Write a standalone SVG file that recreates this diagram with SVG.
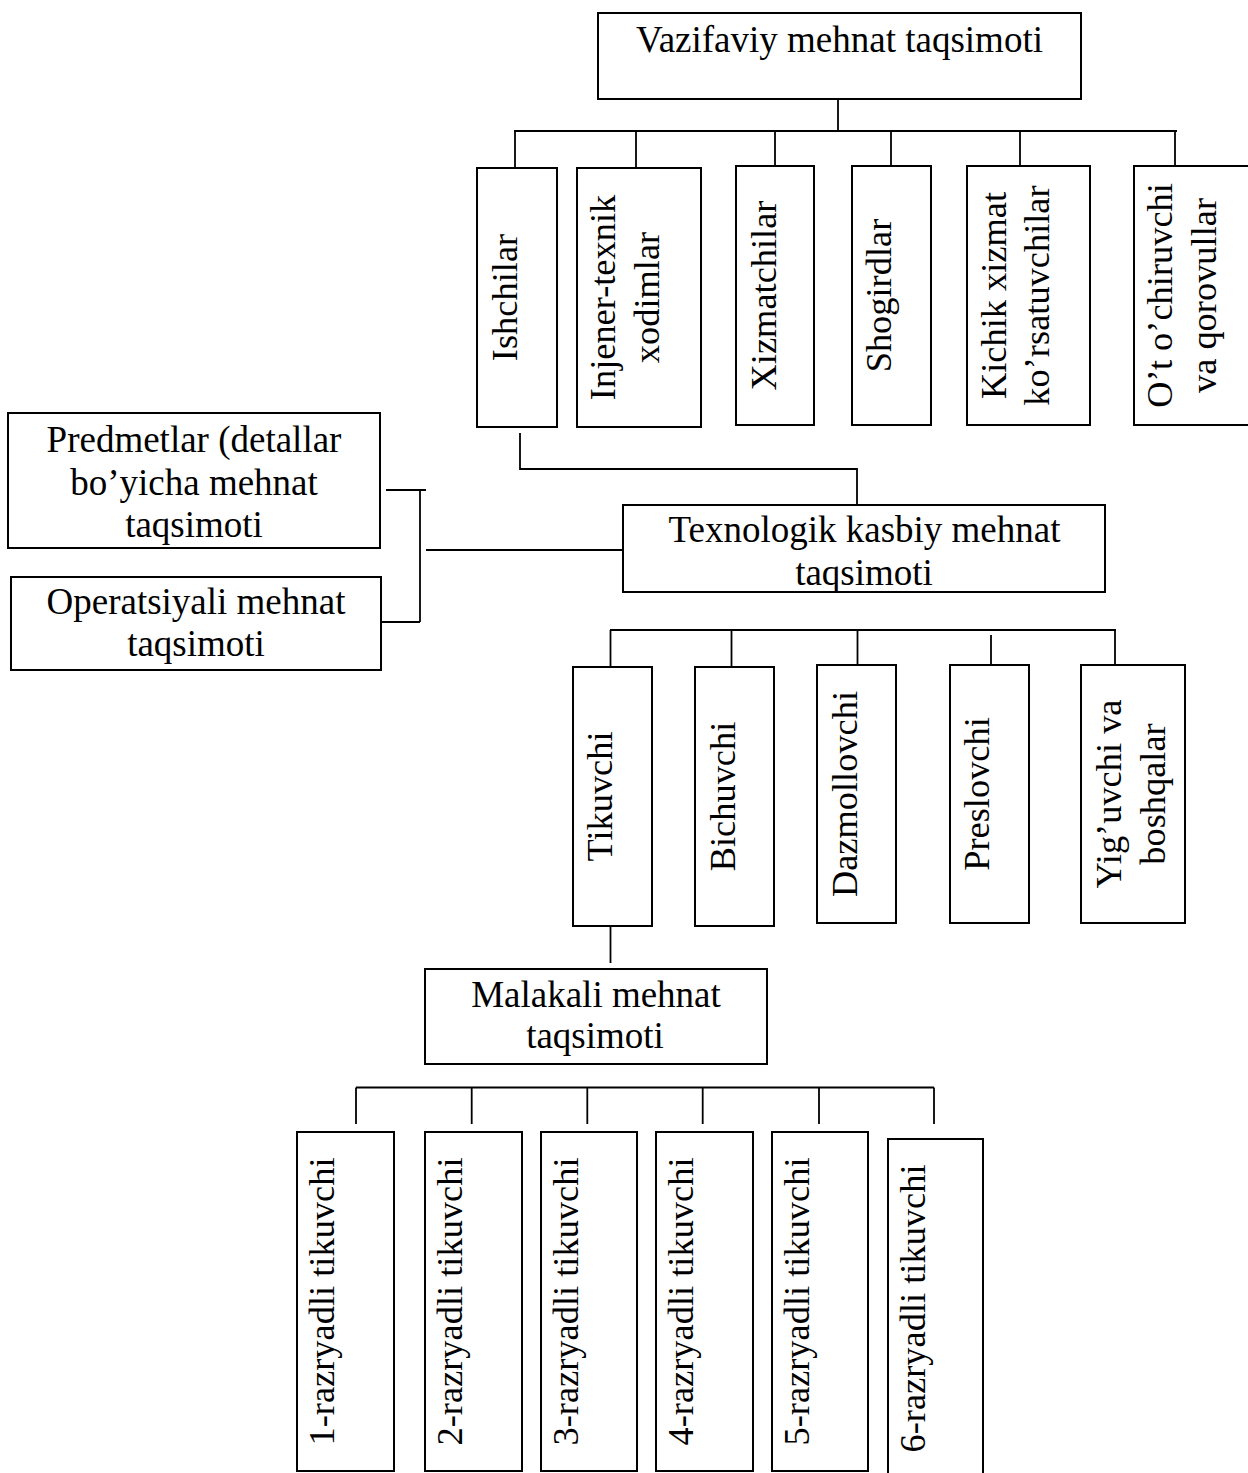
<svg xmlns="http://www.w3.org/2000/svg" width="1248" height="1473" viewBox="0 0 1248 1473">
  <style>
    .box { fill: #ffffff; stroke: #000000; stroke-width: 2; }
    .ln { fill: none; stroke: #000000; stroke-width: 1.8; }
    .t { font-family: "Liberation Serif", "Times New Roman", serif; font-size: 36.4px; fill: #000000; text-anchor: middle; }
    .h { font-size: 37px; }
  </style>
  <defs>
    <clipPath id="clipTex">
      <rect x="623" y="505" width="482" height="86"/>
    </clipPath>
  </defs>
  <rect x="0" y="0" width="1248" height="1473" fill="#ffffff"/>

  <!-- connectors -->
  <g id="connectors" class="ln">
    <!-- top level to first row -->
    <line x1="838" y1="99" x2="838" y2="131"/>
    <line x1="514" y1="131" x2="1177" y2="131"/>
    <line x1="515" y1="131" x2="515" y2="168"/>
    <line x1="636" y1="131" x2="636" y2="168"/>
    <line x1="775" y1="131" x2="775" y2="166"/>
    <line x1="891" y1="131" x2="891" y2="166"/>
    <line x1="1020" y1="131" x2="1020" y2="166"/>
    <line x1="1175" y1="131" x2="1175" y2="166"/>
    <!-- Ishchilar to technological division -->
    <polyline points="520,433 520,469 857,469 857,505"/>
    <!-- left bracket -->
    <line x1="386" y1="490" x2="426" y2="490"/>
    <line x1="420" y1="490" x2="420" y2="622"/>
    <line x1="381" y1="622" x2="420" y2="622"/>
    <line x1="426" y1="550" x2="626" y2="550"/>
    <!-- second row bus -->
    <line x1="610" y1="630" x2="1116" y2="630"/>
    <line x1="610.5" y1="630" x2="610.5" y2="667"/>
    <line x1="731.5" y1="630" x2="731.5" y2="667"/>
    <line x1="857.5" y1="630" x2="857.5" y2="665"/>
    <line x1="991" y1="635" x2="991" y2="665"/>
    <line x1="1115" y1="630" x2="1115" y2="665"/>
    <!-- Tikuvchi to skill division -->
    <line x1="610.5" y1="926" x2="610.5" y2="963"/>
    <!-- bottom bus -->
    <line x1="356" y1="1087.5" x2="934" y2="1087.5"/>
    <line x1="356" y1="1087.5" x2="356" y2="1124"/>
    <line x1="471.7" y1="1087.5" x2="471.7" y2="1124"/>
    <line x1="587.3" y1="1087.5" x2="587.3" y2="1124"/>
    <line x1="702.7" y1="1087.5" x2="702.7" y2="1124"/>
    <line x1="819" y1="1087.5" x2="819" y2="1124"/>
    <line x1="934" y1="1087.5" x2="934" y2="1124"/>
  </g>

  <!-- top node -->
  <g id="vazifaviy">
    <rect class="box" x="598" y="13" width="483" height="86"/>
    <text class="t h" x="839.5" y="52">Vazifaviy mehnat taqsimoti</text>
  </g>

  <!-- first row -->
  <g id="ishchilar">
    <rect class="box" x="477" y="168" width="80" height="259"/>
    <text class="t" transform="translate(517,297.5) rotate(-90)">Ishchilar</text>
  </g>
  <g id="injener">
    <rect class="box" x="577" y="168" width="124" height="259"/>
    <text class="t" transform="translate(615,297.5) rotate(-90)">Injener-texnik</text>
    <text class="t" transform="translate(659,297.5) rotate(-90)">xodimlar</text>
  </g>
  <g id="xizmatchilar">
    <rect class="box" x="736" y="166" width="78" height="259"/>
    <text class="t" transform="translate(776,295.5) rotate(-90)">Xizmatchilar</text>
  </g>
  <g id="shogirdlar">
    <rect class="box" x="852" y="166" width="79" height="259"/>
    <text class="t" transform="translate(891,295.5) rotate(-90)">Shogirdlar</text>
  </g>
  <g id="kichik">
    <rect class="box" x="967" y="166" width="123" height="259"/>
    <text class="t" transform="translate(1006,295.5) rotate(-90)">Kichik xizmat</text>
    <text class="t" transform="translate(1049,295.5) rotate(-90)">ko’rsatuvchilar</text>
  </g>
  <g id="otochiruvchi">
    <rect class="box" x="1134" y="166" width="126" height="259"/>
    <text class="t" transform="translate(1172,295.5) rotate(-90)">O’t o’chiruvchi</text>
    <text class="t" transform="translate(1216,295.5) rotate(-90)">va qorovullar</text>
  </g>

  <!-- left nodes -->
  <g id="predmetlar">
    <rect class="box" x="8" y="413" width="372" height="135"/>
    <text class="t h" x="194" y="452">Predmetlar (detallar</text>
    <text class="t h" x="194" y="494.5">bo’yicha mehnat</text>
    <text class="t h" x="194" y="537">taqsimoti</text>
  </g>
  <g id="operatsiyali">
    <rect class="box" x="11" y="577" width="370" height="93"/>
    <text class="t h" x="196" y="614">Operatsiyali mehnat</text>
    <text class="t h" x="196" y="656">taqsimoti</text>
  </g>

  <!-- technological division -->
  <g id="texnologik">
    <rect class="box" x="623" y="505" width="482" height="87"/>
    <g clip-path="url(#clipTex)">
      <text class="t h" x="864.5" y="542">Texnologik kasbiy mehnat</text>
      <text class="t h" x="864" y="585">taqsimoti</text>
    </g>
  </g>

  <!-- second row -->
  <g id="tikuvchi">
    <rect class="box" x="573" y="667" width="79" height="259"/>
    <text class="t" transform="translate(612,796.5) rotate(-90)">Tikuvchi</text>
  </g>
  <g id="bichuvchi">
    <rect class="box" x="695" y="667" width="79" height="259"/>
    <text class="t" transform="translate(735,796.5) rotate(-90)">Bichuvchi</text>
  </g>
  <g id="dazmollovchi">
    <rect class="box" x="817" y="665" width="79" height="258"/>
    <text class="t" transform="translate(857,794) rotate(-90)">Dazmollovchi</text>
  </g>
  <g id="preslovchi">
    <rect class="box" x="950" y="665" width="79" height="258"/>
    <text class="t" transform="translate(989,794) rotate(-90)">Preslovchi</text>
  </g>
  <g id="yiguvchi">
    <rect class="box" x="1081" y="665" width="104" height="258"/>
    <text class="t" transform="translate(1121,794) rotate(-90)">Yig’uvchi va</text>
    <text class="t" transform="translate(1165,794) rotate(-90)">boshqalar</text>
  </g>

  <!-- skill division -->
  <g id="malakali">
    <rect class="box" x="425" y="969" width="342" height="95"/>
    <text class="t h" x="596" y="1006.7">Malakali mehnat</text>
    <text class="t h" x="595" y="1048">taqsimoti</text>
  </g>

  <!-- bottom row -->
  <g id="razryad1">
    <rect class="box" x="297" y="1132" width="97" height="339"/>
    <text class="t" transform="translate(334,1301.5) rotate(-90)">1-razryadli tikuvchi</text>
  </g>
  <g id="razryad2">
    <rect class="box" x="425" y="1132" width="97" height="339"/>
    <text class="t" transform="translate(462,1301.5) rotate(-90)">2-razryadli tikuvchi</text>
  </g>
  <g id="razryad3">
    <rect class="box" x="541" y="1132" width="96" height="339"/>
    <text class="t" transform="translate(578,1301.5) rotate(-90)">3-razryadli tikuvchi</text>
  </g>
  <g id="razryad4">
    <rect class="box" x="656" y="1132" width="97" height="339"/>
    <text class="t" transform="translate(693,1301.5) rotate(-90)">4-razryadli tikuvchi</text>
  </g>
  <g id="razryad5">
    <rect class="box" x="772" y="1132" width="96" height="339"/>
    <text class="t" transform="translate(809,1301.5) rotate(-90)">5-razryadli tikuvchi</text>
  </g>
  <g id="razryad6">
    <rect class="box" x="888" y="1139" width="95" height="345"/>
    <text class="t" transform="translate(925,1308.5) rotate(-90)">6-razryadli tikuvchi</text>
  </g>
</svg>
